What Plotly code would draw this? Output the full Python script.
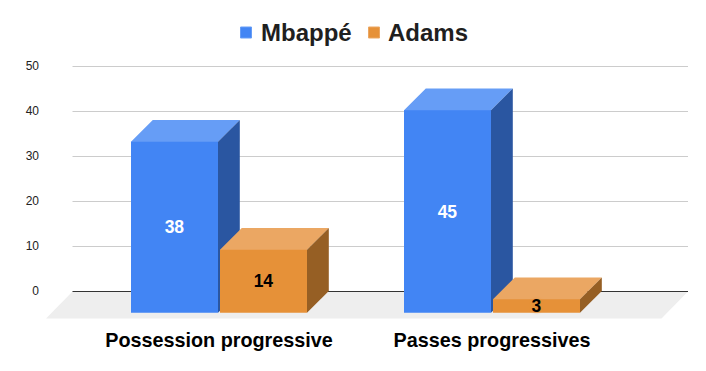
import plotly.graph_objects as go

categories = ["Possession progressive", "Passes progressives"]
mbappe = [38, 45]
adams = [14, 3]
y_ticks = [0, 10, 20, 30, 40, 50]

FONT = "Liberation Sans, Arial, sans-serif"
W, H = 706, 371
SCENE_L, SCENE_R = 46.0, 688.0    # pixel extent of the plot area
BACK_L = 72.5                     # left end of the grid lines
Y0, PX_PER_UNIT = 291.5, 4.5
Y_TOP_PX, Y_BOT_PX = 43.0, 319.0
BAND = 273.0
X0_PX = 219.0
DEPTH = 21.8
FRONT_DROP = 21.3
BAR_PX, GAP_PX = 87.0, 2.0
TICK_NUDGE = 0.11                 # keeps the y labels centred on the pixel row of their rule

DX = DEPTH / BAND
DY = DEPTH / PX_PER_UNIT
BASE = FRONT_DROP / PX_PER_UNIT
BW = BAR_PX / BAND
OFF = (BAR_PX + GAP_PX) / 2 / BAND
LIP = 1.0 / PX_PER_UNIT           # top faces tuck this far under the front faces
x_range = [(SCENE_L - X0_PX) / BAND, (SCENE_R - X0_PX) / BAND]
y_range = [(Y0 - Y_BOT_PX) / PX_PER_UNIT, (Y0 - Y_TOP_PX) / PX_PER_UNIT]
FLOOR_DROP = 27.0 / PX_PER_UNIT
FLOOR_DX = 26.5 / BAND
back_left = (BACK_L - X0_PX) / BAND

series = [
    dict(name="Mbappé", vals=mbappe, sign=-1, front="#4285f4", top="#669df6", side="#2a56a1", txt="#ffffff", shadow="none"),
    dict(name="Adams", vals=adams, sign=1, front="#e69138", top="#eba763", side="#965f24", txt="#000000", shadow="0 0 3px #e69138"),
]

fig = go.Figure()


def poly(xs, ys, color):
    fig.add_trace(go.Scatter(x=xs + xs[:1], y=ys + ys[:1], mode="lines", fill="toself",
                             fillcolor=color, line=dict(width=0),
                             hoverinfo="skip", showlegend=False))


def rule(y, color):
    fig.add_trace(go.Scatter(x=[back_left, x_range[1]], y=[y, y], mode="lines",
                             line=dict(color=color, width=1),
                             hoverinfo="skip", showlegend=False))


for t in y_ticks:
    if t != 0:
        rule(t, "#cccccc")

poly([x_range[1], x_range[1] - FLOOR_DX, x_range[1] - FLOOR_DX - (x_range[1] - back_left), back_left],
     [0, -FLOOR_DROP, -FLOOR_DROP, 0], "#eeeeee")
rule(0, "#333333")

for s in series:
    for i, v in enumerate(s["vals"]):
        cx = i + s["sign"] * OFF
        xl, xr = cx - BW / 2, cx + BW / 2
        top = v - BASE
        poly([xl, xl, xr, xr, xr + DX, xl + DX],
             [top, top - LIP, top - LIP, top, top + DY, top + DY], s["top"])
        poly([xr, xr + DX, xr + DX, xr], [-BASE, -BASE + DY, top + DY, top], s["side"])

for s in series:
    fig.add_trace(go.Bar(
        name=s["name"],
        x=[i + s["sign"] * OFF for i in range(len(categories))],
        y=s["vals"], base=-BASE, width=BW,
        marker=dict(color=s["front"], line=dict(width=0)),
        text=[str(v) for v in s["vals"]], textposition="inside",
        insidetextanchor="middle", textangle=0, constraintext="none",
        textfont=dict(family=FONT, size=17.5, color=s["txt"], weight="bold", shadow=s["shadow"]),
        cliponaxis=False, xaxis="x2", yaxis="y2", hoverinfo="skip", showlegend=False,
    ))

# legend: swatch and name for each series, placed in page pixels
legend_pos = [(240.0, 261.0), (368.0, 388.0)]
shapes, annotations = [], []
for s, (sx, tx) in zip(series, legend_pos):
    shapes.append(dict(type="rect", xref="paper", yref="paper",
                       x0=(sx + 0.5 - SCENE_L) / (SCENE_R - SCENE_L), x1=(sx + 11.5 - SCENE_L) / (SCENE_R - SCENE_L),
                       y0=(Y_BOT_PX - 38) / (Y_BOT_PX - Y_TOP_PX), y1=(Y_BOT_PX - 27) / (Y_BOT_PX - Y_TOP_PX),
                       fillcolor=s["front"], line=dict(color=s["top"], width=1)))
    annotations.append(dict(text=s["name"], xref="paper", yref="paper", showarrow=False,
                            x=(tx - SCENE_L) / (SCENE_R - SCENE_L), y=(Y_BOT_PX - 32.5) / (Y_BOT_PX - Y_TOP_PX),
                            xanchor="left", yanchor="middle", xshift=-2,
                            font=dict(family=FONT, size=24, color="#1f1f1f", weight="bold")))

fig.update_layout(
    width=W, height=H, autosize=False,
    margin=dict(l=SCENE_L, r=W - SCENE_R, t=Y_TOP_PX, b=H - Y_BOT_PX, pad=0),
    paper_bgcolor="#ffffff", plot_bgcolor="#ffffff",
    barmode="overlay", showlegend=False,
    font=dict(family=FONT),
    shapes=shapes, annotations=annotations,
    xaxis=dict(range=x_range, tickmode="array", tickvals=list(range(len(categories))), ticktext=categories,
               showgrid=False, zeroline=False, showline=False, ticks="",
               tickfont=dict(family=FONT, size=19.8, color="#000000", weight="bold"), ticklabelstandoff=7),
    yaxis=dict(range=y_range, tickmode="array", tickvals=[t + TICK_NUDGE for t in y_ticks],
               ticktext=[str(t) for t in y_ticks], showgrid=False,
               zeroline=False, showline=False, ticks="",
               tickfont=dict(family=FONT, size=12, color="#222222"), ticklabelstandoff=6),
    xaxis2=dict(range=x_range, overlaying="x", visible=False),
    yaxis2=dict(range=y_range, overlaying="y", visible=False),
)

fig.write_html("out.html", config=dict(displayModeBar=False),
               post_script="document.body.style.margin='0';")
